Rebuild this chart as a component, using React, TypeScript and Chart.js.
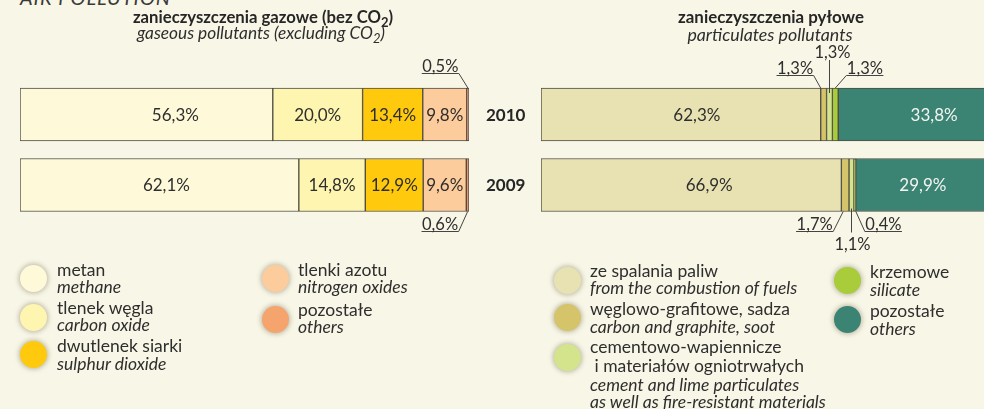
import React, { useEffect, useRef } from "react";
import { Chart, registerables } from "chart.js";

Chart.register(...registerables);

// ---------- data ----------
const years = ["2010", "2009"];

const gasLabelsPl = ["metan", "tlenek węgla", "dwutlenek siarki", "tlenki azotu", "pozostałe"];
const gasLabelsEn = ["methane", "carbon oxide", "sulphur dioxide", "nitrogen oxides", "others"];
const gasMethane = [56.3, 62.1];
const gasCarbonOxide = [20.0, 14.8];
const gasSulphurDioxide = [13.4, 12.9];
const gasNitrogenOxides = [9.8, 9.6];
const gasOthers = [0.5, 0.6];

const dustLabelsPl = ["ze spalania paliw", "węglowo-grafitowe, sadza", "cementowo-wapiennicze", "krzemowe", "pozostałe"];
const dustLabelsEn = ["from the combustion of fuels", "carbon and graphite, soot", "cement and lime particulates", "silicate", "others"];
const dustFuels = [62.3, 66.9];
const dustCarbon = [1.3, 1.7];
const dustCement = [1.3, 1.1];
const dustSilicate = [1.3, 0.4];
const dustOthers = [33.8, 29.9];

// ---------- styles ----------
const BG = "#F8F6E6";
const TEXT = "#2e2e2e";
const EDGE = "#4d4c42";
const FONT = "Lato, 'Noto Sans', sans-serif";
const gasColors = ["#FEF9D8", "#FEF5B0", "#FFC90E", "#FDCC9C", "#EE9068"];
const gasLegendColors = ["#FEF9D8", "#FEF5B0", "#FFC90E", "#FDCC9C", "#F6A46E"];
const dustColors = ["#E8E2B2", "#D6C46A", "#D4E48C", "#A8CC3A", "#3B8474"];
const dustLabelColors = [TEXT, TEXT, TEXT, TEXT, "#F4F4F0"];
const LEGEND_SIZE = 17.5;

// horizontal nudges of in-bar labels, keyed "dataset-index"
const gasLabelShift: Record<string, number> = { "0-0": 29, "0-1": 7 };
const dustLabelShift: Record<string, number> = { "0-0": 16, "0-1": 18, "4-0": 20 };

type Callout = {
  ds: number;
  idx: number;
  kind: "left" | "right" | "vert";
  side: "top" | "bottom";
  ax?: number;
  ex?: number;
  dy?: number;
  y1?: number;
  y2?: number;
  tdx?: number;
  tby?: number;
};

const gasCallouts: Callout[] = [
  { ds: 4, idx: 0, kind: "left", side: "top", ax: 0, ex: -9, dy: 15 },
  { ds: 4, idx: 1, kind: "left", side: "bottom", ax: 0, ex: -9, dy: 19 },
];
const dustCallouts: Callout[] = [
  { ds: 1, idx: 0, kind: "left", side: "top", ax: -3, ex: -10, dy: 13 },
  { ds: 2, idx: 0, kind: "vert", side: "top", y1: 5, y2: -28, tdx: 3, tby: -30 },
  { ds: 3, idx: 0, kind: "right", side: "top", ax: 0, ex: 11, dy: 13 },
  { ds: 1, idx: 1, kind: "left", side: "bottom", ax: -2, ex: -12, dy: 19 },
  { ds: 2, idx: 1, kind: "vert", side: "bottom", y1: -3, y2: 21, tdx: 1, tby: 38 },
  { ds: 3, idx: 1, kind: "right", side: "bottom", ax: 1, ex: 10, dy: 19 },
];

const fmt = (v: number) => v.toFixed(1).replace(".", ",") + "%";

function makeLabelPlugin(labelColors: string[], shift: Record<string, number>, callouts: Callout[], showYears: boolean) {
  return {
    id: "labels",
    afterDatasetsDraw(chart: any) {
      const ctx = chart.ctx as CanvasRenderingContext2D;
      ctx.save();
      ctx.font = `17px ${FONT}`;
      ctx.textAlign = "center";
      ctx.textBaseline = "middle";
      chart.data.datasets.forEach((ds: any, di: number) => {
        const meta = chart.getDatasetMeta(di);
        meta.data.forEach((el: any, i: number) => {
          const v = ds.data[i];
          if (v < 5) return;
          const p = el.getProps(["x", "base", "y"], true);
          ctx.fillStyle = labelColors[di];
          ctx.fillText(fmt(v), (p.x + p.base) / 2 + (shift[`${di}-${i}`] || 0), p.y + 1);
        });
      });
      ctx.strokeStyle = "#444";
      ctx.lineWidth = 1;
      ctx.fillStyle = TEXT;
      ctx.textBaseline = "alphabetic";
      ctx.font = `16.5px ${FONT}`;
      callouts.forEach((c) => {
        const el = chart.getDatasetMeta(c.ds).data[c.idx];
        const p = el.getProps(["x", "base", "y", "height"], true);
        const cx = (p.x + p.base) / 2;
        const top = p.y - p.height / 2;
        const bot = p.y + p.height / 2;
        const edge = c.side === "top" ? top : bot;
        const dir = c.side === "top" ? -1 : 1;
        const txt = fmt(chart.data.datasets[c.ds].data[c.idx]);
        const w = ctx.measureText(txt).width + 1;
        ctx.beginPath();
        if (c.kind === "vert") {
          ctx.moveTo(Math.round(cx) + 0.5, edge + (c.y1 as number));
          ctx.lineTo(Math.round(cx) + 0.5, edge + (c.y2 as number));
          ctx.stroke();
          ctx.textAlign = "center";
          ctx.fillText(txt, cx + (c.tdx as number), edge + (c.tby as number));
        } else {
          const ax = cx + (c.ax as number);
          const exx = cx + (c.ex as number);
          const ey = Math.round(edge + dir * (c.dy as number)) + 0.5;
          const ux = c.kind === "left" ? exx - w : exx + w;
          ctx.moveTo(ax, edge);
          ctx.lineTo(exx, ey);
          ctx.lineTo(ux, ey);
          ctx.stroke();
          ctx.textAlign = "center";
          ctx.fillText(txt, (exx + ux) / 2, ey - 2);
        }
      });
      if (showYears) {
        ctx.font = `bold 17px ${FONT}`;
        ctx.textAlign = "left";
        ctx.textBaseline = "middle";
        ctx.fillStyle = "#262626";
        const meta = chart.getDatasetMeta(0);
        chart.data.labels.forEach((lab: string, i: number) => {
          const p = meta.data[i].getProps(["y"], true);
          ctx.fillText(lab, chart.chartArea.right + 17, p.y + 1);
        });
      }
      ctx.restore();
    },
  };
}

function buildChart(
  canvas: HTMLCanvasElement,
  series: number[][],
  names: string[],
  colors: string[],
  labelColors: string[],
  shift: Record<string, number>,
  callouts: Callout[],
  padding: { left: number; right: number; top: number; bottom: number },
  showYears: boolean
) {
  return new Chart(canvas, {
    type: "bar",
    data: {
      labels: years,
      datasets: series.map((d, i) => ({
        label: names[i],
        data: d,
        backgroundColor: colors[i],
        borderColor: EDGE,
        borderWidth: 1,
        borderSkipped: false,
        barThickness: 53,
      })),
    },
    options: {
      indexAxis: "y",
      responsive: false,
      animation: false,
      devicePixelRatio: 1,
      layout: { padding },
      scales: {
        x: { stacked: true, min: 0, max: 100, display: false },
        y: { stacked: true, display: false },
      },
      plugins: { legend: { display: false }, tooltip: { enabled: false } },
    },
    plugins: [makeLabelPlugin(labelColors, shift, callouts, showYears)],
  } as any);
}

const abs = (o: React.CSSProperties): React.CSSProperties => ({ position: "absolute", whiteSpace: "pre", ...o });

function Line({ x, y, text, italic, bold, size = LEGEND_SIZE, center }: any) {
  const lh = 20;
  const style: React.CSSProperties = center
    ? abs({ left: x - 250, width: 500, textAlign: "center", top: y - lh / 2 })
    : abs({ left: x, top: y - lh / 2 });
  return (
    <div
      style={{
        ...style,
        lineHeight: lh + "px",
        fontSize: size,
        fontStyle: italic ? "italic" : "normal",
        fontWeight: bold ? 700 : 400,
        color: bold ? "#262626" : TEXT,
      }}
    >
      {text}
    </div>
  );
}

function Dot({ x, y, color }: { x: number; y: number; color: string }) {
  const r = 13.5;
  return (
    <div
      style={abs({
        left: x - r,
        top: y - r,
        width: 2 * r,
        height: 2 * r,
        borderRadius: "50%",
        background: color,
        boxShadow: "0 0 5px 1px rgba(90,85,60,0.4)",
      })}
    />
  );
}

const sub = { fontSize: 13, lineHeight: 0 } as React.CSSProperties;

export default function App() {
  const leftRef = useRef<HTMLCanvasElement>(null);
  const rightRef = useRef<HTMLCanvasElement>(null);

  useEffect(() => {
    document.body.style.margin = "0";
    const c1 = buildChart(
      leftRef.current!,
      [gasMethane, gasCarbonOxide, gasSulphurDioxide, gasNitrogenOxides, gasOthers],
      gasLabelsPl,
      gasColors,
      [TEXT, TEXT, TEXT, TEXT, TEXT],
      gasLabelShift,
      gasCallouts,
      { left: 20, right: 984 - 469, top: 79.25, bottom: 409 - 220.25 },
      true
    );
    const c2 = buildChart(
      rightRef.current!,
      [dustFuels, dustCarbon, dustCement, dustSilicate, dustOthers],
      dustLabelsPl,
      dustColors,
      dustLabelColors,
      dustLabelShift,
      dustCallouts,
      { left: 541, right: 1000 - 990, top: 79.25, bottom: 409 - 220.25 },
      false
    );
    return () => {
      c1.destroy();
      c2.destroy();
    };
  }, []);

  return (
    <div
      style={{
        position: "relative",
        width: 984,
        height: 409,
        overflow: "hidden",
        background: BG,
        fontFamily: FONT,
        color: TEXT,
      }}
    >
      <div style={abs({ left: 20, top: -15, fontSize: 20, fontStyle: "italic", lineHeight: "24px", color: "#3a3a3a", letterSpacing: 1 })}>
        AIR POLLUTION
      </div>
      <canvas ref={leftRef} width={984} height={409} style={abs({ left: 0, top: 0, width: 984, height: 409 })} />
      <canvas ref={rightRef} width={1000} height={409} style={abs({ left: 0, top: 0, width: 1000, height: 409 })} />

      <Line x={263} y={17} bold center size={16.7} text={<>zanieczyszczenia gazowe (bez CO<sub style={sub}>2</sub>)</>} />
      <Line x={261} y={33} italic center size={17.3} text={<>gaseous pollutants (excluding CO<sub style={sub}>2</sub>)</>} />
      <Line x={771} y={17} bold center size={16.9} text="zanieczyszczenia pyłowe" />
      <Line x={770} y={34} italic center size={17.8} text="particulates pollutants" />

      {/* gas legend */}
      <Dot x={33} y={278} color={gasLegendColors[0]} />
      <Line x={57} y={270} text={gasLabelsPl[0]} />
      <Line x={57} y={287} italic text={gasLabelsEn[0]} />
      <Dot x={33} y={317} color={gasLegendColors[1]} />
      <Line x={57} y={308} text={gasLabelsPl[1]} />
      <Line x={57} y={325} italic text={gasLabelsEn[1]} />
      <Dot x={33} y={354} color={gasLegendColors[2]} />
      <Line x={57} y={346} text={gasLabelsPl[2]} />
      <Line x={57} y={364} italic text={gasLabelsEn[2]} />
      <Dot x={275} y={278} color={gasLegendColors[3]} />
      <Line x={298} y={270} text={gasLabelsPl[3]} />
      <Line x={298} y={287} italic text={gasLabelsEn[3]} />
      <Dot x={275} y={319} color={gasLegendColors[4]} />
      <Line x={298} y={310} text={gasLabelsPl[4]} />
      <Line x={298} y={327} italic text={gasLabelsEn[4]} />

      {/* dust legend */}
      <Dot x={567} y={280} color={dustColors[0]} />
      <Line x={590} y={271} text={dustLabelsPl[0]} />
      <Line x={590} y={288} italic text={dustLabelsEn[0]} />
      <Dot x={567} y={317} color={dustColors[1]} />
      <Line x={590} y={309} text={dustLabelsPl[1]} />
      <Line x={590} y={327} italic text={dustLabelsEn[1]} />
      <Dot x={567} y={357} color={dustColors[2]} />
      <Line x={590} y={347} text={dustLabelsPl[2]} />
      <Line x={590} y={366} text=" i materiałów ogniotrwałych" />
      <Line x={590} y={385} italic text={dustLabelsEn[2]} />
      <Line x={590} y={402} italic text="as well as fire-resistant materials" />
      <Dot x={847} y={280} color={dustColors[3]} />
      <Line x={870} y={272} text={dustLabelsPl[3]} />
      <Line x={870} y={290} italic text={dustLabelsEn[3]} />
      <Dot x={847} y={319} color={dustColors[4]} />
      <Line x={870} y={311} text={dustLabelsPl[4]} />
      <Line x={870} y={329} italic text={dustLabelsEn[4]} />
    </div>
  );
}
